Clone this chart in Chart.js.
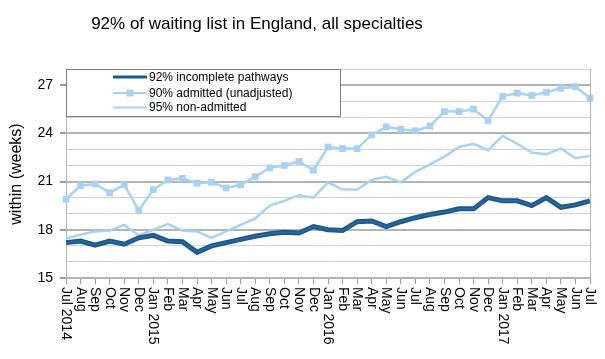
<!DOCTYPE html>
<html>
<head>
<meta charset="utf-8">
<script src="https://cdn.jsdelivr.net/npm/chart.js@4"></script>
<style>
  body { margin: 0; background: #fff; }
  #wrap { width: 605px; height: 359px; }
</style>
</head>
<body>
<div id="wrap"><canvas id="chart" width="605" height="359"></canvas></div>
<script>
const months = ['Jul 2014', 'Aug', 'Sep', 'Oct', 'Nov', 'Dec',
    'Jan 2015', 'Feb', 'Mar', 'Apr', 'May', 'Jun', 'Jul', 'Aug', 'Sep', 'Oct', 'Nov', 'Dec',
    'Jan 2016', 'Feb', 'Mar', 'Apr', 'May', 'Jun', 'Jul', 'Aug', 'Sep', 'Oct', 'Nov', 'Dec',
    'Jan 2017', 'Feb', 'Mar', 'Apr', 'May', 'Jun', 'Jul'];

const incomplete = [17.2, 17.3, 17.05, 17.3, 17.1, 17.5, 17.65, 17.3, 17.25, 16.6, 17.0, 17.2,
    17.4, 17.6, 17.75, 17.85, 17.8, 18.2, 18.0, 17.95, 18.5, 18.55, 18.2, 18.5,
    18.75, 18.95, 19.1, 19.3, 19.3, 20.0, 19.8, 19.8, 19.5, 20.0, 19.4, 19.55, 19.8];

const admitted = [19.9, 20.75, 20.85, 20.3, 20.8, 19.2, 20.5, 21.1, 21.2, 20.9, 20.95, 20.6,
    20.8, 21.3, 21.85, 22.0, 22.25, 21.7, 23.15, 23.05, 23.05, 23.9, 24.4, 24.25,
    24.15, 24.45, 25.35, 25.35, 25.5, 24.8, 26.3, 26.5, 26.35, 26.55, 26.8, 26.9, 26.2];

const nonAdmitted = [17.45, 17.7, 17.9, 17.95, 18.3, 17.65, 18.0, 18.35, 17.95, 17.9, 17.5, 17.9,
    18.3, 18.7, 19.5, 19.8, 20.15, 20.0, 20.95, 20.5, 20.5, 21.1, 21.3, 20.95,
    21.6, 22.05, 22.55, 23.15, 23.35, 22.95, 23.85, 23.35, 22.8, 22.7, 23.05, 22.45, 22.6];

const yTicks = [15, 18, 21, 24, 27];

const FONT = '"Liberation Sans", Arial, sans-serif';
const DARK = '#1b5889';
const LIGHT = '#a9d1f4';

// title, axis title, rotated month labels, boxed legend
const decor = {
    id: 'decor',
    beforeDraw(chart) {
        const ctx = chart.ctx;
        ctx.save();
        ctx.fillStyle = '#fff';
        ctx.fillRect(0, 0, chart.width, chart.height);
        ctx.restore();
    },
    afterDatasetsDraw(chart) {
        // lighter core on the thick line
        const ctx = chart.ctx;
        const pts = chart.getDatasetMeta(0).data;
        ctx.save();
        ctx.strokeStyle = '#2a6a9d';
        ctx.lineWidth = 1.5;
        ctx.lineJoin = 'round';
        ctx.beginPath();
        pts.forEach((p, i) => i ? ctx.lineTo(p.x, p.y) : ctx.moveTo(p.x, p.y));
        ctx.stroke();
        ctx.restore();
    },
    afterDraw(chart) {
        const { ctx, chartArea: a, scales: { x } } = chart;
        ctx.save();

        ctx.strokeStyle = '#b4b4b4';
        ctx.lineWidth = 1;
        ctx.beginPath();
        ctx.moveTo(a.right + 0.5, a.top);
        ctx.lineTo(a.right + 0.5, a.bottom);
        ctx.stroke();

        ctx.fillStyle = '#000';
        ctx.font = '17px ' + FONT;
        ctx.textAlign = 'center';
        ctx.textBaseline = 'middle';
        ctx.fillText('92% of waiting list in England, all specialties', 257, 24);

        ctx.save();
        ctx.translate(17, 174);
        ctx.rotate(-Math.PI / 2);
        ctx.font = '16px ' + FONT;
        ctx.fillText('within (weeks)', 0, 0);
        ctx.restore();

        ctx.font = '14px ' + FONT;
        ctx.textAlign = 'left';
        months.forEach((m, i) => {
            ctx.save();
            ctx.translate(x.getPixelForTick(i), a.bottom + 9);
            ctx.rotate(Math.PI / 2);
            ctx.fillText(m, 0, 0);
            ctx.restore();
        });

        // legend box
        const bx = a.left, by = a.top, bw = 274, bh = 47;
        ctx.fillStyle = '#fff';
        ctx.fillRect(bx, by, bw, bh);
        ctx.strokeStyle = '#808080';
        ctx.strokeRect(bx + 0.5, by + 0.5, bw, bh);
        const rows = [by + 8, by + 24, by + 38.5];
        ctx.font = '12px ' + FONT;
        ctx.textBaseline = 'middle';
        chart.data.datasets.forEach((ds, i) => {
            const ry = rows[i];
            ctx.strokeStyle = ds.borderColor;
            ctx.lineWidth = i === 0 ? 3 : 2;
            ctx.beginPath();
            ctx.moveTo(bx + 47, ry);
            ctx.lineTo(bx + 81, ry);
            ctx.stroke();
            if (ds.pointRadius > 0) {
                ctx.fillStyle = ds.pointBackgroundColor;
                ctx.fillRect(bx + 60.5, ry - 3.5, 7, 7);
            }
            ctx.fillStyle = '#000';
            ctx.fillText(ds.label, bx + 83, ry + 0.5);
        });
        ctx.restore();
    }
};

new Chart(document.getElementById('chart'), {
    type: 'line',
    data: {
        labels: months,
        datasets: [{
            label: '92% incomplete pathways',
            data: incomplete,
            borderColor: DARK,
            borderWidth: 5,
            pointRadius: 0,
            tension: 0,
            clip: false
        }, {
            label: '90% admitted (unadjusted)',
            data: admitted,
            borderColor: LIGHT,
            borderWidth: 2.5,
            pointStyle: 'rect',
            pointRadius: 4.8,
            pointBackgroundColor: LIGHT,
            pointBorderColor: LIGHT,
            pointBorderWidth: 0,
            tension: 0,
            clip: false
        }, {
            label: '95% non-admitted',
            data: nonAdmitted,
            borderColor: LIGHT,
            borderWidth: 2.5,
            pointRadius: 0,
            tension: 0,
            clip: false
        }]
    },
    options: {
        responsive: false,
        animation: false,
        layout: { padding: { top: 69, right: 15, left: 0, bottom: 0 } },
        plugins: {
            legend: { display: false },
            tooltip: { enabled: false }
        },
        scales: {
            x: {
                offset: false,
                afterFit: (s) => { s.height = 81; },
                border: { color: '#b4b4b4' },
                grid: { drawOnChartArea: false, drawTicks: true, tickLength: 6, color: '#9a9a9a' },
                ticks: { autoSkip: false, color: 'rgba(0,0,0,0)', maxRotation: 0, minRotation: 0 }
            },
            y: {
                min: 15,
                max: 28,
                afterFit: (s) => { s.width = 66; },
                border: { color: '#b4b4b4' },
                grid: {
                    color: (c) => yTicks.includes(c.tick.value) ? '#b4b4b4' : '#d2d2d2',
                    lineWidth: (c) => yTicks.includes(c.tick.value) ? 2 : 1,
                    tickColor: (c) => yTicks.includes(c.tick.value) ? '#9a9a9a' : 'rgba(0,0,0,0)',
                    tickLength: 6
                },
                ticks: {
                    stepSize: 1,
                    autoSkip: false,
                    padding: 7,
                    color: '#000',
                    font: { family: FONT, size: 14 },
                    callback: (v) => yTicks.includes(v) ? v : ''
                }
            }
        }
    },
    plugins: [decor]
});
</script>
</body>
</html>
